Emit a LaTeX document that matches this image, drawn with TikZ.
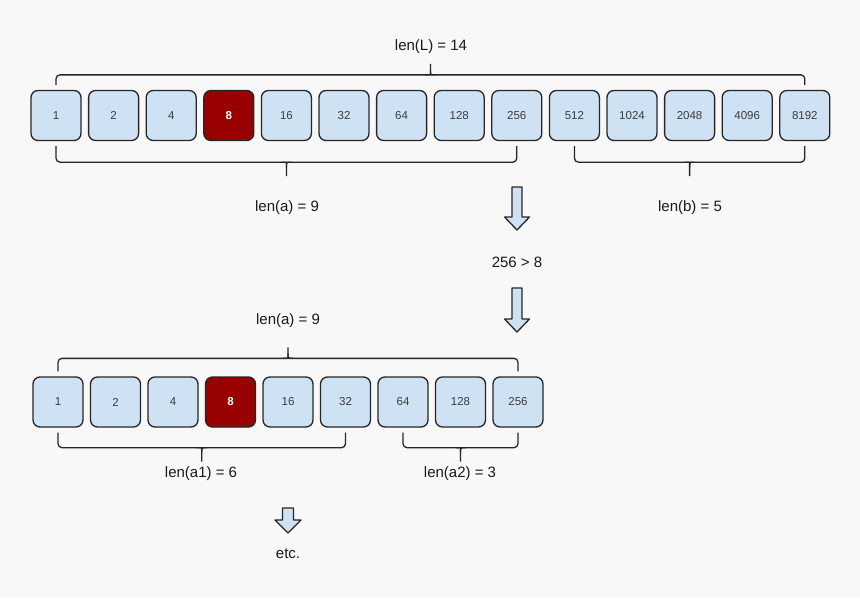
\documentclass[tikz,border=0pt]{standalone}
\usepackage{fontspec}
\setmainfont{Liberation Sans}
\usetikzlibrary{calc}
\definecolor{cellblue}{RGB}{207,226,243}
\definecolor{hitred}{RGB}{153,0,0}
\definecolor{bggray}{RGB}{248,248,248}
\definecolor{numgray}{RGB}{60,60,60}

% brace above a row: left node, right node, gap, name of the tick
\newcommand{\bracetop}[4]{
\draw [brace] ($(#1.north)+(0,-5)$) |- ($(#2.north)+(0,-#3)$) -- ($(#2.north)+(0,-5)$);
\coordinate (#4) at ($(#1.north)!0.5!(#2.north)+(0,-#3)$);
\draw [brace] ($(#4)+(-5,0)$) .. controls (#4) .. ($(#4)+(0,-5)$) -- ($(#4)+(0,-11)$);
\draw [brace] ($(#4)+(5,0)$) .. controls (#4) .. ($(#4)+(0,-5)$);
}
% brace below a row
\newcommand{\bracebot}[4]{
\draw [brace] ($(#1.south)+(0,5)$) |- ($(#2.south)+(0,#3)$) -- ($(#2.south)+(0,5)$);
\coordinate (#4) at ($(#1.south)!0.5!(#2.south)+(0,#3)$);
\draw [brace] ($(#4)+(-5,0)$) .. controls (#4) .. ($(#4)+(0,5)$) -- ($(#4)+(0,14)$);
\draw [brace] ($(#4)+(5,0)$) .. controls (#4) .. ($(#4)+(0,5)$);
}
% block arrow pointing down: top point, shaft length, half shaft, half head
\newcommand{\blockarr}[4]{
\draw [blockarrow] ($(#1)+(-#3,0)$) -- ++(2*#3,0) -- ++(0,#2) -- ++(#4-#3,0)
  -- ($(#1)+(0,#2+13)$) -- ($(#1)+(-#4,#2)$) -- ++(#4-#3,0) -- cycle;
}

\begin{document}
\begin{tikzpicture}[x=1pt,y=-1pt,
  cell/.style={draw=black!85, line width=1.3pt, fill=cellblue, rounded corners=7pt,
    minimum width=50pt, minimum height=50pt, inner sep=0pt,
    text=numgray, font=\fontsize{11.5}{13}\selectfont},
  hit/.style={cell, fill=hitred, text=white, font=\fontsize{11.5}{13}\selectfont\bfseries},
  brace/.style={line width=1.3pt, draw=black!85, rounded corners=4pt},
  blockarrow/.style={line width=1.3pt, draw=black!85, fill=cellblue, line join=round},
  lbl/.style={font=\fontsize{15}{18}\selectfont, text=black!90}]

\fill [bggray] (0,0) rectangle (860,598);
\useasboundingbox (0,0) rectangle (860,598);

% the whole list L
\foreach \v/\s [count=\i] in {1/cell,2/cell,4/cell,8/hit,16/cell,32/cell,64/cell,
  128/cell,256/cell,512/cell,1024/cell,2048/cell,4096/cell,8192/cell}
  \node [\s] (l\i) at ({56+57.6*(\i-1)},115.5) {\v};

\bracetop{l1}{l14}{15}{tickL}
\node [lbl] (lenL) at (431,47) {len(L) = 14};

\bracebot{l1}{l9}{21}{ticka}
\node [lbl] (lena) at (287,208) {len(a) = 9};
\bracebot{l10}{l14}{21}{tickb}
\node [lbl] (lenb) at (690,208) {len(b) = 5};

\coordinate (arrA) at (517,187);
\blockarr{arrA}{30}{5}{12.5}
\node [lbl] (cmp) at (517,262) {256 > 8};
\coordinate (arrB) at (517,288);
\blockarr{arrB}{31}{5}{12.5}

% the half a
\foreach \v/\s [count=\i] in {1/cell,2/cell,4/cell,8/hit,16/cell,32/cell,64/cell,
  128/cell,256/cell}
  \node [\s] (a\i) at ({58+57.5*(\i-1)},402) {\v};

\bracetop{a1}{a9}{18}{tickA}
\node [lbl] (lenA) at (288,321) {len(a) = 9};

\bracebot{a1}{a6}{20}{tickaa}
\node [lbl] (lenaa) at (201,474) {len(a1) = 6};
\bracebot{a7}{a9}{20}{tickab}
\node [lbl] (lenab) at (460,474) {len(a2) = 3};

\coordinate (arrC) at (288,508);
\blockarr{arrC}{12}{5.5}{13}
\node [lbl] (etc) at (288,554) {etc.};

\end{tikzpicture}
\end{document}
